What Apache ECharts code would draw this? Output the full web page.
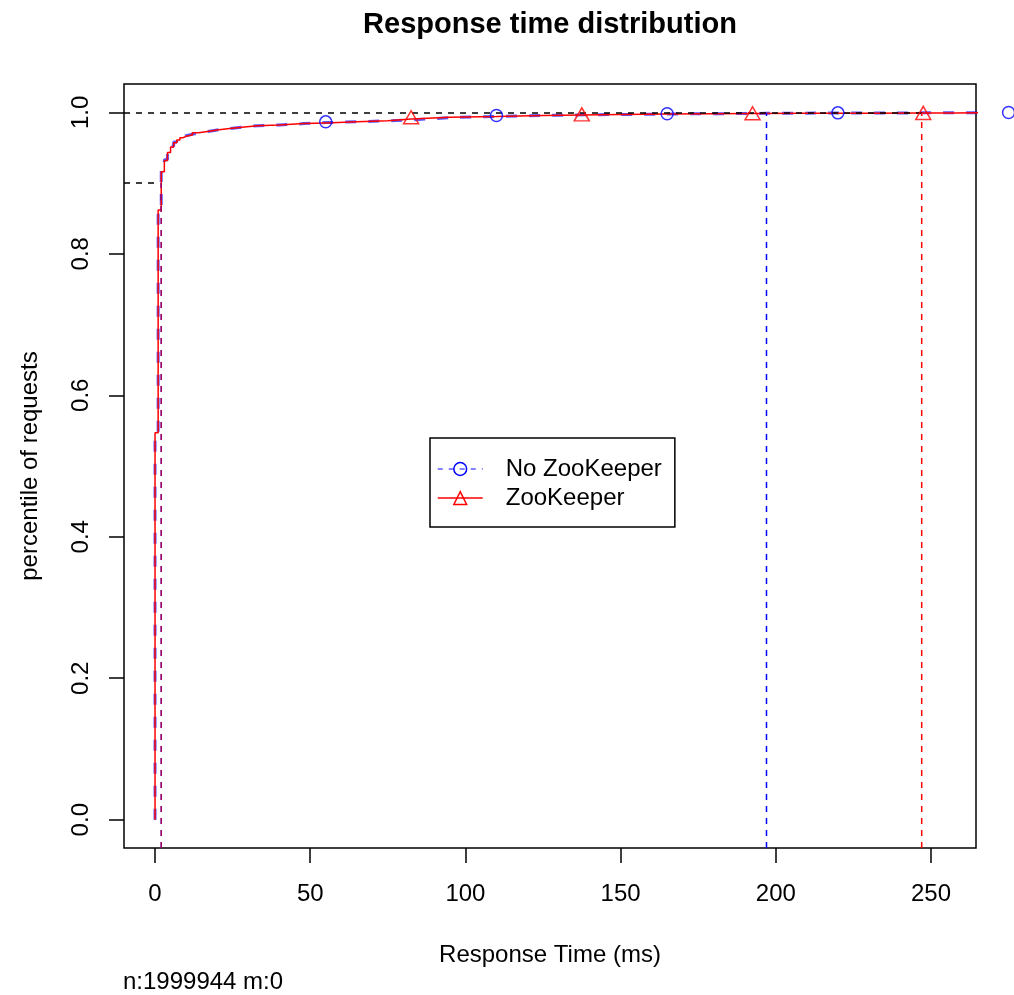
<!DOCTYPE html>
<html>
<head>
<meta charset="utf-8">
<title>Response time distribution</title>
<script src="https://cdn.jsdelivr.net/npm/echarts@6/dist/echarts.min.js"></script>
<style>
  html, body { margin: 0; padding: 0; background: #fff; }
  #chart { width: 1014px; height: 995px; }
</style>
</head>
<body>
<div id="chart"></div>
<script>
// Empirical CDF of response times (ms) for the two configurations
const noZkTimes = [0, 0, 1, 2, 3, 4, 5, 6, 7, 8, 9, 10, 12, 14, 17, 20, 24, 28, 33, 40, 48, 55, 65, 75, 85, 95, 110, 125, 140, 155, 165, 180, 197, 220, 245, 275, 290];
const noZkCdf   = [0, 0.537, 0.866, 0.918, 0.933, 0.944, 0.952, 0.958, 0.962, 0.965, 0.967, 0.969, 0.971, 0.973, 0.975, 0.977, 0.979, 0.981, 0.982, 0.984, 0.9855, 0.9865, 0.988, 0.9898, 0.9925, 0.994, 0.9955, 0.9965, 0.997, 0.9976, 0.998, 0.9985, 0.999, 0.9992, 0.9995, 0.9998, 1.0];

const zkTimes = [0, 0, 1, 2, 3, 4, 5, 6, 7, 8, 9, 10, 12, 14, 17, 20, 24, 28, 33, 40, 48, 55, 65, 75, 82.5, 95, 110, 125, 137.5, 150, 165, 180, 192.5, 210, 230, 247.5, 258, 266];
const zkCdf   = [0, 0.547, 0.862, 0.916, 0.932, 0.943, 0.951, 0.957, 0.961, 0.964, 0.966, 0.968, 0.971, 0.973, 0.975, 0.977, 0.979, 0.981, 0.982, 0.984, 0.985, 0.9865, 0.988, 0.9905, 0.993, 0.994, 0.9955, 0.9963, 0.997, 0.9975, 0.998, 0.9983, 0.9986, 0.9988, 0.9989, 0.9991, 0.9995, 1.0];

// Where the point symbols sit along each curve
const noZkMarkAt = [55, 110, 165, 220, 275];
const zkMarkAt   = [82.5, 137.5, 192.5, 247.5];

// Percentile guides: levels and the response time reached at each level
const pctLevels = [0.9, 0.999];
const noZkPct   = [2, 197];
const zkPct     = [2, 247];
const hGuideEnd = [0, 247];

const xTicks = [0, 50, 100, 150, 200, 250];
const yTicks = [0, 0.2, 0.4, 0.6, 0.8, 1.0];
const xRange = [-10, 264.5];
const yRange = [-0.04, 1.04];

const sampleInfo = 'n:1999944 m:0';

const FONT = 'Liberation Sans, Arial, Helvetica, sans-serif';
const BLUE = '#0000ff';
const RED = '#ff0000';

function pairs(xs, ys) { return xs.map((x, i) => [x, ys[i]]); }

// step-function lookup of the ECDF at time t
function cdfAt(xs, ys, t) {
  let v = ys[0];
  for (let i = 0; i < xs.length; i++) { if (xs[i] <= t) v = ys[i]; }
  return v;
}

function guide(points, color, opacity) {
  return {
    type: 'line', data: points, symbol: 'none', silent: true,
    lineStyle: { color: color, width: 1.5, type: [6, 6], opacity: opacity == null ? 1 : opacity },
    z: 3
  };
}

const guides = [];
pctLevels.forEach((lvl, i) => {
  guides.push(guide([[xRange[0], lvl], [hGuideEnd[i], lvl]], '#000'));
  guides.push(guide([[noZkPct[i], yRange[0]], [noZkPct[i], lvl]], BLUE));
  guides.push(guide([[zkPct[i], yRange[0]], [zkPct[i], lvl]], RED, i === 0 ? 0.65 : 1));
});

const chart = echarts.init(document.getElementById('chart'), null, { renderer: 'canvas' });

chart.setOption({
  animation: false,
  backgroundColor: '#fff',
  textStyle: { fontFamily: FONT },
  title: {
    text: 'Response time distribution',
    left: 550, top: 10, textAlign: 'center', padding: 0,
    textStyle: { fontSize: 29, fontWeight: 'bold', color: '#000', fontFamily: FONT }
  },
  grid: {
    left: 124, top: 84, right: 38, bottom: 147,
    show: true, borderColor: '#000', borderWidth: 1.5, backgroundColor: 'transparent'
  },
  legend: {
    orient: 'vertical', left: 430, top: 438,
    padding: [19, 13, 17, 7],
    itemWidth: 45, itemHeight: 16, itemGap: 5,
    borderColor: '#000', borderWidth: 1.5, backgroundColor: '#fff',
    textStyle: { fontSize: 24, color: '#000', fontFamily: FONT, padding: [0, 0, 0, 18] },
    data: [
      { name: 'No ZooKeeper',
        itemStyle: { color: 'transparent', borderColor: BLUE, borderWidth: 1.5 },
        lineStyle: { color: BLUE, width: 1.5, type: [5, 6] } },
      { name: 'ZooKeeper',
        itemStyle: { color: 'transparent', borderColor: RED, borderWidth: 1.5 },
        lineStyle: { color: RED, width: 1.5, type: 'solid' } }
    ]
  },
  xAxis: {
    type: 'value', min: xRange[0], max: xRange[1],
    axisLine: { show: false, onZero: false },
    splitLine: { show: false },
    axisTick: { show: true, inside: false, length: 15, lineStyle: { color: '#000', width: 1.5 }, customValues: xTicks },
    axisLabel: { customValues: xTicks, fontSize: 24, color: '#000', margin: 34, fontFamily: FONT },
    name: 'Response Time (ms)', nameLocation: 'middle', nameGap: 95,
    nameTextStyle: { fontSize: 24, color: '#000', fontFamily: FONT }
  },
  yAxis: {
    type: 'value', min: yRange[0], max: yRange[1],
    axisLine: { show: false, onZero: false },
    splitLine: { show: false },
    axisTick: { show: true, inside: false, length: 15, lineStyle: { color: '#000', width: 1.5 }, customValues: yTicks },
    axisLabel: { customValues: yTicks, rotate: 90, fontSize: 24, color: '#000', margin: 31, fontFamily: FONT,
                 formatter: v => v.toFixed(1) },
    name: 'percentile of requests', nameLocation: 'middle', nameGap: 82, nameRotate: 90,
    nameTextStyle: { fontSize: 24, color: '#000', fontFamily: FONT }
  },
  graphic: [{
    type: 'text', left: 123, top: 970,
    style: { text: sampleInfo, font: '24px ' + FONT, fill: '#000' }
  }],
  series: [
    {
      name: 'No ZooKeeper', type: 'line', step: 'end',
      data: pairs(noZkTimes, noZkCdf),
      symbol: 'circle', symbolSize: 12, showSymbol: false, clip: true,
      itemStyle: { color: 'transparent', borderColor: BLUE, borderWidth: 1.5 },
      lineStyle: { color: BLUE, width: 3, type: [11, 12], opacity: 0.65 },
      z: 1
    },
    {
      name: 'ZooKeeper', type: 'line', step: 'end',
      data: pairs(zkTimes, zkCdf),
      symbol: 'triangle', symbolSize: [15, 13], showSymbol: false, clip: true,
      itemStyle: { color: 'transparent', borderColor: RED, borderWidth: 1.5 },
      lineStyle: { color: RED, width: 1.5 },
      z: 2
    },
    ...guides,
    {
      name: 'No ZooKeeper points', type: 'scatter', clip: false, silent: true,
      data: noZkMarkAt.map(t => [t, cdfAt(noZkTimes, noZkCdf, t)]),
      symbol: 'circle', symbolSize: 12,
      itemStyle: { color: 'transparent', borderColor: BLUE, borderWidth: 1.5 },
      z: 4
    },
    {
      name: 'ZooKeeper points', type: 'scatter', clip: false, silent: true,
      data: zkMarkAt.map(t => [t, cdfAt(zkTimes, zkCdf, t)]),
      symbol: 'triangle', symbolSize: [15, 13],
      itemStyle: { color: 'transparent', borderColor: RED, borderWidth: 1.5 },
      z: 4
    }
  ]
});
</script>
</body>
</html>
